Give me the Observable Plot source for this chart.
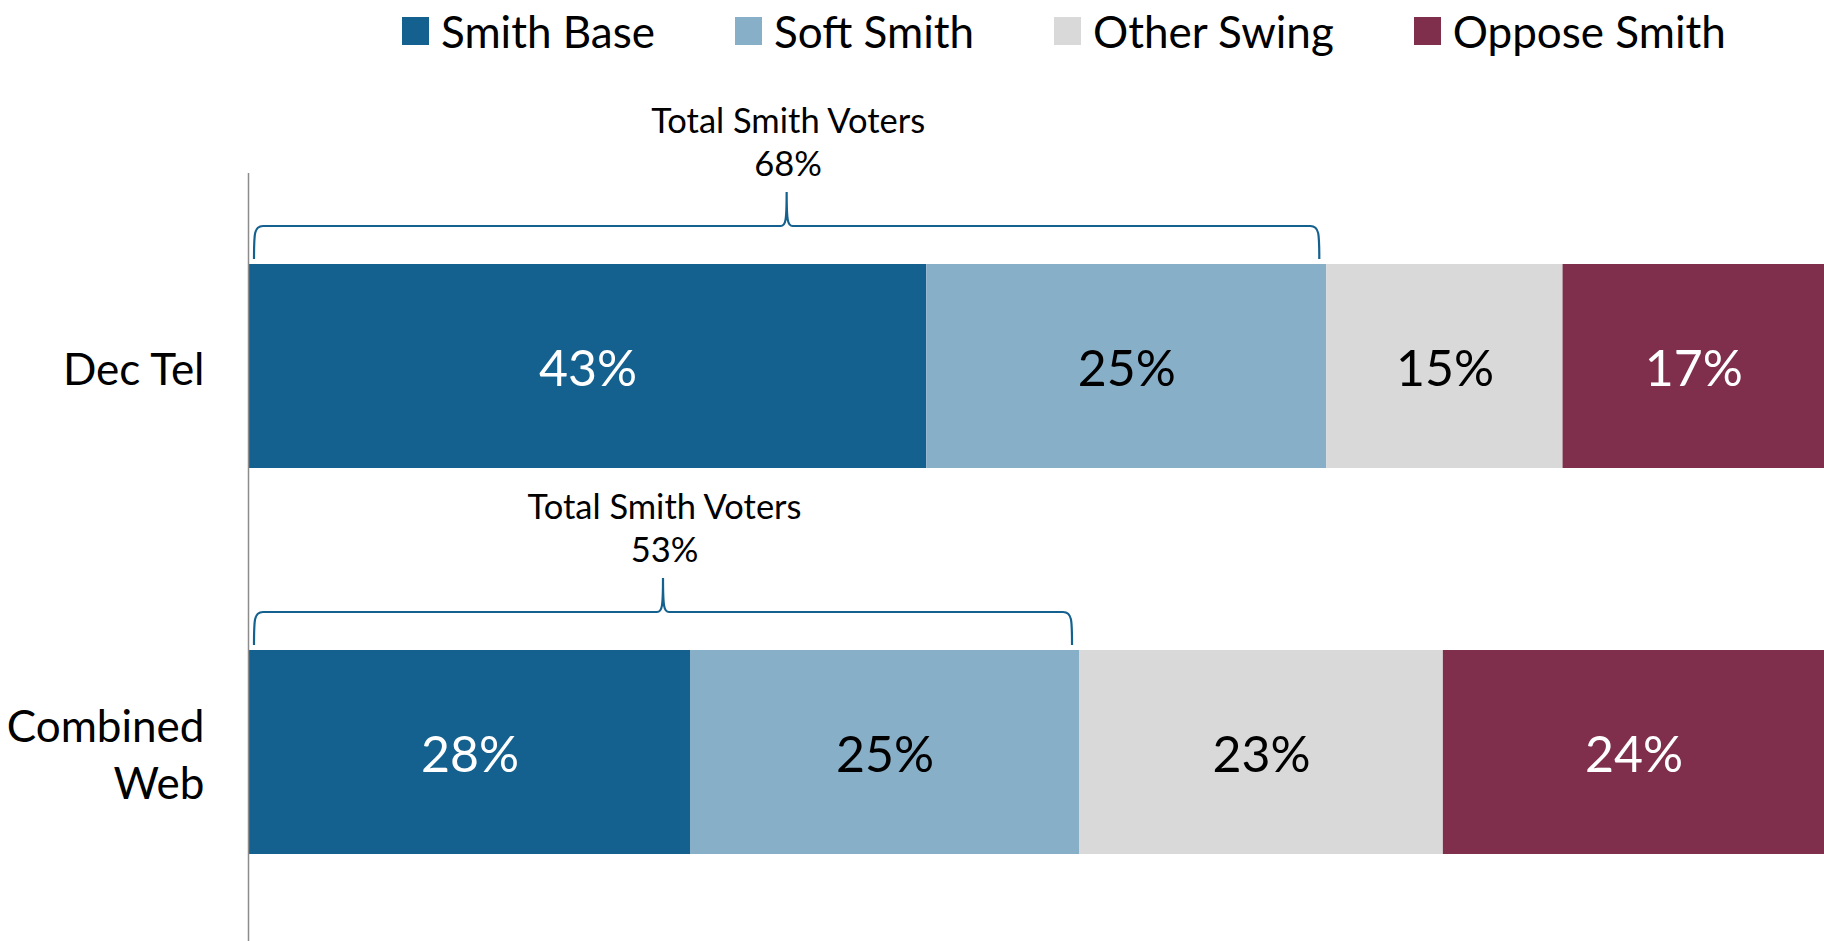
<!DOCTYPE html>
<html><head><meta charset="utf-8">
<script src="https://cdn.jsdelivr.net/npm/d3@7"></script>
<script src="https://cdn.jsdelivr.net/npm/@observablehq/plot@0.6"></script>
<style>
html,body{margin:0;padding:0;background:#fff;}
body{width:1824px;height:941px;overflow:hidden;font-family:Lato,sans-serif;}
#legend{height:62px;display:flex;align-items:center;padding-left:402px;box-sizing:border-box;}
.item{display:flex;align-items:center;margin-right:80px;font-size:44px;color:#000;white-space:nowrap;}
.sw{width:27px;height:28px;margin-right:12px;flex:none;}
#chart svg{display:block;}
</style></head><body>
<div id="legend"></div><div id="chart"></div>
<script>
const categories = ["Dec Tel", "Combined Web"];
const tickLabels = ["Dec Tel", "Combined\nWeb"];
const segments = ["Smith Base", "Soft Smith", "Other Swing", "Oppose Smith"];
const segmentColors = ["#14618f", "#88afc8", "#d9d9d9", "#7f2f4b"];
const labelColors = ["white", "black", "black", "white"];
const decTel = [43.0, 25.4, 15.0, 16.6];
const combinedWeb = [28.0, 24.7, 23.1, 24.2];
const totalSmith = [68, 53];
const totalLabel = "Total Smith Voters";

const series = [decTel, combinedWeb];
const data = categories.flatMap((c, i) => segments.map((s, j) => ({cat: c, seg: s, value: series[i][j]})));
// brace spans the Smith Base + Soft Smith segments
const totals = categories.map((c, i) => ({cat: c, total: totalSmith[i], span: series[i][0] + series[i][1]}));

// legend
const legend = d3.select("#legend");
segments.forEach((s, i) => {
  const it = legend.append("div").attr("class", "item");
  it.append("div").attr("class", "sw").style("background", segmentColors[i]);
  it.append("span").text(s);
});

function braces(index, scales) {
  const {x, y} = scales;
  const g = d3.create("svg:g").attr("fill", "none").attr("stroke", "#14618f").attr("stroke-width", 2.2);
  for (const t of totals) {
    const x0 = x(0) + 5, x1 = x(t.span) - 7, xm = (x0 + x1) / 2;
    const top = y(t.cat);
    const yE = top - 5, yH = top - 38, yT = top - 72;
    const p = `M${x0},${yE} C${x0},${yH + 8} ${x0},${yH} ${x0 + 9},${yH} L${xm - 6},${yH} C${xm - 1},${yH} ${xm},${yH - 5} ${xm},${yT} C${xm},${yH - 5} ${xm + 1},${yH} ${xm + 6},${yH} L${x1 - 9},${yH} C${x1},${yH} ${x1},${yH + 8} ${x1},${yE}`;
    g.append("path").attr("d", p);
  }
  return g.node();
}

const stackOpts = {x: "value", y: "cat", z: "seg", order: segments, text: d => Math.round(d.value) + "%", fontSize: 50, dy: 3};
const isWhite = d => labelColors[segments.indexOf(d.seg)] === "white";

const chart = Plot.plot({
  width: 1824,
  height: 879,
  marginLeft: 249,
  marginRight: 0,
  marginTop: 111,
  marginBottom: 0,
  style: {fontFamily: "Lato, sans-serif", color: "#000", background: "#fff"},
  x: {domain: [0, 100], axis: null},
  y: {domain: categories, range: [111, 883], paddingInner: 0.4715, paddingOuter: 0.23575, axis: null, label: null},
  color: {domain: segments, range: segmentColors},
  marks: [
    Plot.barX(data, Plot.stackX({x: "value", y: "cat", fill: "seg", order: segments})),
    Plot.text(data, Plot.filter(isWhite, Plot.stackX({...stackOpts, fill: "white"}))),
    Plot.text(data, Plot.filter(d => !isWhite(d), Plot.stackX({...stackOpts, fill: "black"}))),
    Plot.ruleX([0], {stroke: "#8c8c8c", strokeWidth: 1.5, dx: -1}),
    Plot.axisY({tickSize: 0, tickPadding: 45, fontSize: 44, lineHeight: 1.3, label: null, tickFormat: d => tickLabels[categories.indexOf(d)], fill: "#000"}),
    Plot.text(totals, {x: d => d.span / 2, y: "cat", text: d => totalLabel + "\n" + d.total + "%", dy: -226, fontSize: 34.5, lineHeight: 1.25, fill: "#000"}),
    braces
  ]
});
document.getElementById("chart").appendChild(chart);
</script>
</body></html>
